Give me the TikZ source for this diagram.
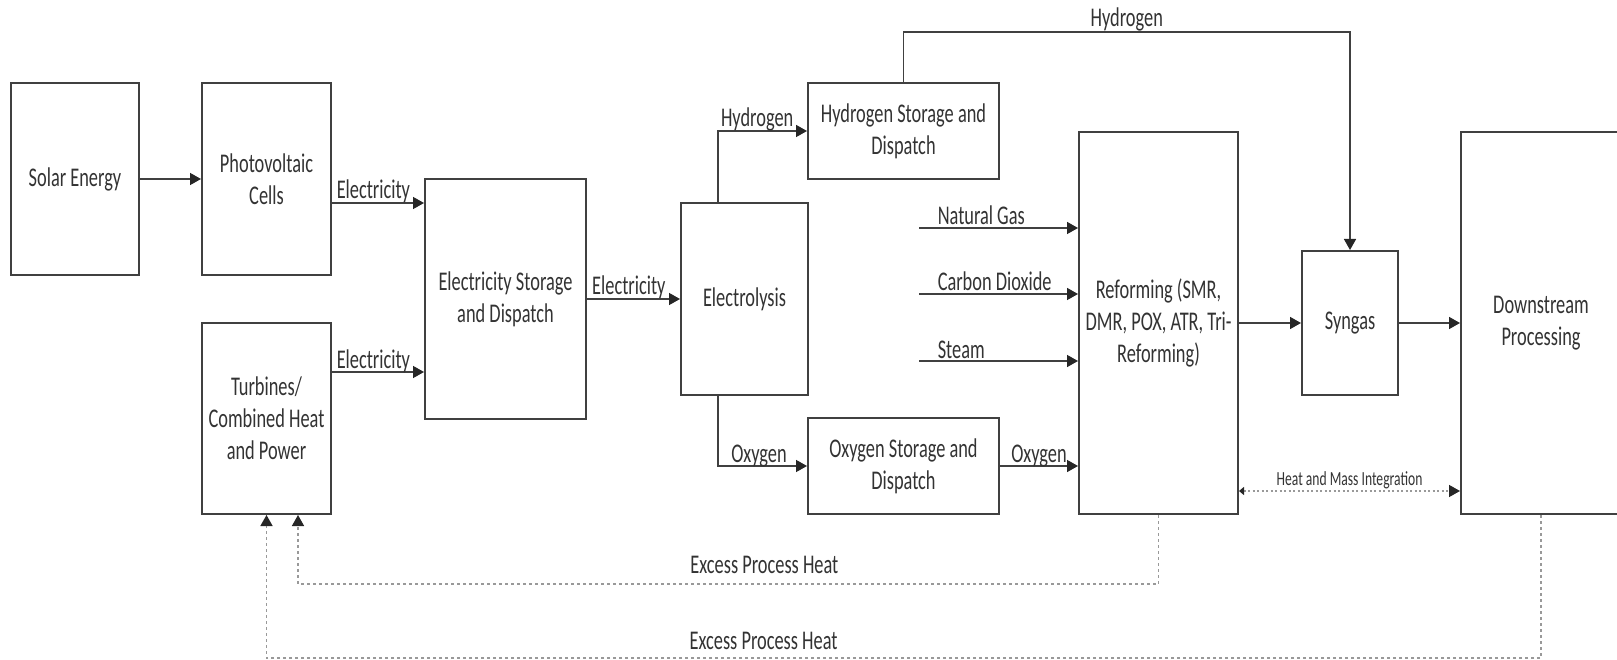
\documentclass[tikz,border=0pt]{standalone}
\usepackage{fontspec}
\setmainfont{Carlito}[FakeStretch=0.68]
\usetikzlibrary{arrows.meta}

\begin{document}
\begin{tikzpicture}[x=1pt,y=-1pt,
        font=\fontsize{27}{32}\selectfont,
        box/.style={draw=black!75,line width=2pt,fill=white,align=center,text=black!80,inner sep=0pt},
        flow/.style={draw=black!75,line width=1.5pt,-{Triangle[length=11pt,width=12pt,black!85]}},
        heat/.style={draw=black!40,line width=1.4pt,dash pattern=on 3pt off 3pt,-{Triangle[length=11pt,width=12pt,black!85]}},
        mass/.style={draw=black!40,line width=1.4pt,dash pattern=on 2pt off 2.5pt,{Triangle[length=5pt,width=8pt,black!85]}-{Triangle[length=11pt,width=12pt,black!85]}},
        lbl/.style={text=black!80,inner sep=0pt,anchor=base,yshift=#1},
        lbl/.default=4pt]
    \useasboundingbox (0,0) rectangle (1617,660);
    \clip (0,0) rectangle (1617,660);
    %% blocks
    \node[box,minimum width=128pt,minimum height=192pt] (solar) at (75,179) {Solar Energy};
    \node[box,minimum width=129pt,minimum height=192pt] (pv) at (266.5,179) {Photovoltaic\\Cells};
    \node[box,minimum width=129pt,minimum height=191pt] (turb) at (266.5,418.5) {Turbines/\\Combined Heat\\and Power};
    \node[box,minimum width=161pt,minimum height=240pt] (esd) at (505.5,299) {Electricity Storage\\and Dispatch};
    \node[box,minimum width=127pt,minimum height=192pt] (elec) at (744.5,299) {Electrolysis};
    \node[box,minimum width=191pt,minimum height=96pt] (h2s) at (903.5,131) {Hydrogen Storage and\\Dispatch};
    \node[box,minimum width=191pt,minimum height=96pt] (o2s) at (903.5,466) {Oxygen Storage and\\Dispatch};
    \node[box,minimum width=159pt,minimum height=382pt] (ref) at (1158.5,323) {Reforming (SMR,\\DMR, POX, ATR, Tri-\\Reforming)};
    \node[box,minimum width=96pt,minimum height=144pt] (syn) at (1350,323) {Syngas};
    \node[box,minimum width=160pt,minimum height=382pt] (down) at (1541,323) {Downstream\\Processing};
    %% electricity
    \draw[flow] (solar) -- (pv);
    \draw[flow] ([yshift=-24pt]pv.east) -- node[lbl,pos=0.45]{Electricity} ([yshift=96pt]esd.west);
    \draw[flow] ([yshift=46.5pt]turb.east) -- node[lbl,pos=0.45]{Electricity} ([yshift=-73pt]esd.west);
    \draw[flow] (esd) -- node[lbl,pos=0.45]{Electricity} (elec);
    %% electrolysis products
    \draw[flow] ([xshift=-26.5pt]elec.north) |- node[lbl,pos=0.72]{Hydrogen} (h2s.west);
    \draw[flow] ([xshift=-26.5pt]elec.south) |- node[lbl,pos=0.73]{Oxygen} (o2s.west);
    \draw[flow] (h2s.north) -- ++(0,-50) -| node[lbl=5pt,pos=0.25]{Hydrogen} (syn.north);
    \draw[flow] (o2s.east) -- node[lbl]{Oxygen} (o2s.east -| ref.west);
    %% feeds
    \foreach \y/\name/\txt in {228/ng/Natural Gas,294/co/Carbon Dioxide,361/st/Steam} {
        \coordinate (\name) at (919,\y);
        \draw[flow] (\name) -- node[lbl=3pt,anchor=base west,pos=0,xshift=18pt]{\txt} (\name -| ref.west);
    }
    \draw[flow] (ref) -- (syn);
    \draw[flow] (syn) -- (down);
    %% heat
    \draw[mass] ([yshift=-168pt]ref.east) -- node[lbl=6pt,font=\fontsize{20}{24}\selectfont]{Heat and Mass Integration} ([yshift=-168pt]down.west);
    \draw[heat] (ref.south) -- ++(0,69) -| node[lbl=11pt,pos=0.229]{Excess Process Heat} ([xshift=31.5pt]turb.south);
    \draw[heat] (down.south) -- ++(0,143) -| node[lbl=9pt,pos=0.305]{Excess Process Heat} (turb.south);
\end{tikzpicture}
\end{document}
